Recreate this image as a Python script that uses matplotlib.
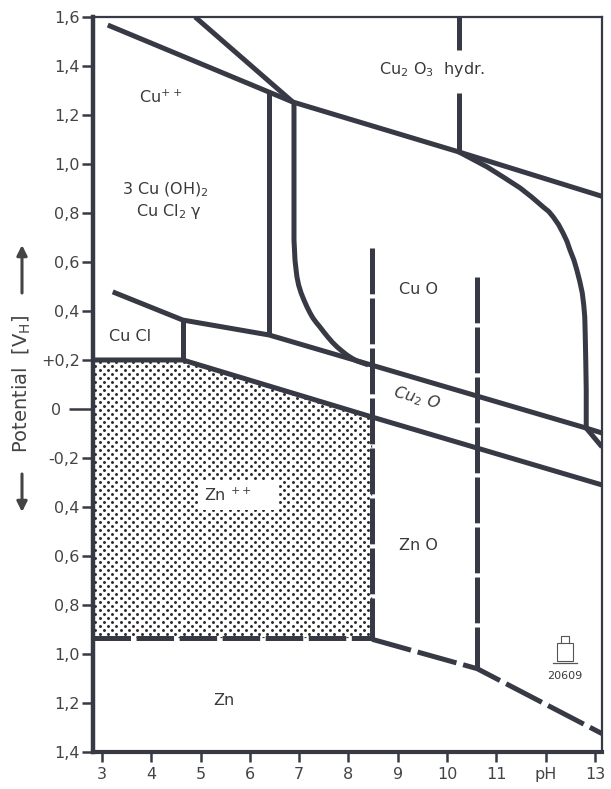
import numpy as np
import matplotlib.pyplot as plt
from matplotlib.patches import Polygon, Rectangle

plt.rcParams['font.family'] = ['DejaVu Sans']
plt.rcParams['lines.scale_dashes'] = False

INK = '#373a44'
TXT = '#3a3a3a'

# axis ticks
ph_ticks = [3, 4, 5, 6, 7, 8, 9, 10, 11, 12, 13]
ph_labels = ['3', '4', '5', '6', '7', '8', '9', '10', '11', 'pH', '13']
pot_ticks = [1.6, 1.4, 1.2, 1.0, 0.8, 0.6, 0.4, 0.2, 0.0,
             -0.2, -0.4, -0.6, -0.8, -1.0, -1.2, -1.4]
pot_labels = ['1,6', '1,4', '1,2', '1,0', '0,8', '0,6', '0,4', '+0,2', '0',
              '-0,2', '0,4', '0,6', '0,8', '1,0', '1,2', '1,4']

# copper boundaries (pH, potential in V_H)
cu_upper_ph = [3.12, 6.87, 10.24, 13.14]
cu_upper_v = [1.567, 1.253, 1.049, 0.868]

steep_ph = [4.89, 6.87]
steep_v = [1.60, 1.253]

hydr_ph = 10.24
hydr_top_v = [1.60, 1.465]
hydr_low_v = [1.29, 1.049]

basic_ph = 6.39
basic_v = [1.29, 0.302]

left_curve_ph = [6.895, 6.895, 6.905, 6.915, 6.935, 6.955, 6.99, 7.04, 7.10,
                 7.16, 7.22, 7.28, 7.35, 7.42, 7.50, 7.58, 7.67, 7.77, 7.87,
                 7.97, 8.07, 8.17, 8.40]
left_curve_v = [1.249, 0.690, 0.650, 0.608, 0.572, 0.539, 0.505, 0.473, 0.443,
                0.416, 0.392, 0.371, 0.352, 0.335, 0.314, 0.294, 0.273, 0.253,
                0.236, 0.220, 0.207, 0.196, 0.180]

right_curve_ph = [10.24, 10.52, 10.81, 11.15, 11.48, 11.72, 11.95, 12.06, 12.15,
                  12.26, 12.35, 12.43, 12.49, 12.57, 12.63, 12.69, 12.74, 12.77,
                  12.79, 12.80, 12.81, 12.82, 12.82]
right_curve_v = [1.049, 1.019, 0.988, 0.945, 0.902, 0.864, 0.824, 0.806, 0.784,
                 0.752, 0.718, 0.684, 0.649, 0.608, 0.567, 0.520, 0.473, 0.424,
                 0.376, 0.300, 0.200, 0.078, -0.078]

cuo_ph = [3.22, 4.64, 6.39, 12.82, 13.14]
cuo_v = [0.478, 0.363, 0.302, -0.078, -0.098]

tail_ph = [12.82, 13.14]
tail_v = [-0.078, -0.155]

cucl_ph = 4.64
cucl_v = [0.363, 0.20]

cu_metal_ph = [2.82, 4.64, 8.48, 13.14]
cu_metal_v = [0.20, 0.20, -0.033, -0.31]

# zinc boundaries
zno_left_ph = 8.48
zno_left_v = [0.657, -0.94]
zno_right_ph = 10.61
zno_right_v = [0.539, -1.06]

zn_flat_ph = [2.82, 8.48]
zn_flat_v = [-0.935, -0.935]
zn_slope_ph = [8.48, 10.61, 13.14]
zn_slope_v = [-0.94, -1.06, -1.325]

zn_ion_ph = [2.82, 4.64, 8.48, 8.48, 2.82]
zn_ion_v = [0.20, 0.20, -0.033, -0.935, -0.935]

# region labels
label_text = ['Cu$^{++}$', 'Cu$_2$ O$_3$  hydr.', '3 Cu (OH)$_2$', 'Cu Cl$_2$ γ',
              'Cu Cl', 'Cu O', 'Zn O', 'Zn']
label_ph = [4.20, 9.69, 4.28, 4.35, 3.57, 9.41, 9.41, 5.47]
label_v = [1.27, 1.384, 0.894, 0.806, 0.294, 0.486, -0.559, -1.188]


def main():
    fig = plt.figure(figsize=(6.11, 7.89), dpi=100)
    ax = fig.add_axes([0.1522, 0.0469, 0.8331, 0.9316])
    ax.set_xlim(2.82, 13.14)
    ax.set_ylim(-1.4, 1.6)

    # dotted Zn++ field
    field = Polygon(np.column_stack([zn_ion_ph, zn_ion_v]), closed=True,
                    facecolor='white', edgecolor='none', zorder=1)
    ax.add_patch(field)
    gx, gy = np.meshgrid(np.arange(2.70, 8.7, 0.170), np.arange(-1.0, 0.25, 0.0326))
    dots_x = np.concatenate([gx.ravel(), (gx + 0.085).ravel()])
    dots_y = np.concatenate([gy.ravel(), (gy + 0.0163).ravel()])
    dots = ax.scatter(dots_x, dots_y, s=4.5, color='#2a2a2a', linewidths=0, zorder=2)
    dots.set_clip_path(field)

    solid = dict(color=INK, lw=3.6, solid_capstyle='butt', solid_joinstyle='round', zorder=4)
    ax.plot(cu_upper_ph, cu_upper_v, **solid)
    ax.plot(steep_ph, steep_v, **solid)
    ax.plot([hydr_ph, hydr_ph], hydr_top_v, **solid)
    ax.plot([hydr_ph, hydr_ph], hydr_low_v, **solid)
    ax.plot([basic_ph, basic_ph], basic_v, **solid)
    ax.plot(left_curve_ph, left_curve_v, **solid)
    ax.plot(right_curve_ph, right_curve_v, **solid)
    ax.plot(cuo_ph, cuo_v, **solid)
    ax.plot(tail_ph, tail_v, **solid)
    ax.plot([cucl_ph, cucl_ph], cucl_v, **solid)
    ax.plot(cu_metal_ph, cu_metal_v, **solid)

    vdash = dict(color=INK, lw=3.6, dashes=(33, 3), dash_capstyle='butt', zorder=3)
    ax.plot([zno_left_ph, zno_left_ph], zno_left_v, **vdash)
    ax.plot([zno_right_ph, zno_right_ph], zno_right_v, **vdash)
    ax.plot(zn_flat_ph, zn_flat_v, color=INK, lw=3.6, dashes=(27, 4),
            dash_capstyle='butt', zorder=3)
    ax.plot(zn_slope_ph, zn_slope_v, color=INK, lw=3.6, dashes=(29, 5),
            dash_capstyle='butt', zorder=3)

    for t, x, y in zip(label_text, label_ph, label_v):
        ax.text(x, y, t, ha='center', va='center', fontsize=11.5, color=TXT, zorder=6)
    ax.text(9.39, 0.045, 'Cu$_2$ O', ha='center', va='center', fontsize=11.5,
            color=TXT, rotation=-15, style='italic', zorder=6)
    ax.text(5.07, -0.351, 'Zn $^{++}$    ', ha='left', va='center', fontsize=11.5,
            color=TXT, zorder=6,
            bbox=dict(facecolor='white', edgecolor='none', boxstyle='square,pad=0.4'))

    # little stamp mark above the drawing number
    ax.add_patch(Rectangle((12.22, -1.03), 0.34, 0.075, facecolor='none',
                           edgecolor='#555555', lw=0.8))
    ax.plot([12.14, 12.64], [-1.035, -1.035], color='#555555', lw=0.9)
    ax.plot([12.30, 12.30, 12.48, 12.48], [-0.955, -0.925, -0.925, -0.955],
            color='#555555', lw=0.8)
    ax.text(12.39, -1.09, '20609', ha='center', va='center', fontsize=8, color=TXT)

    # frame and ticks
    for side, w in [('left', 3.2), ('bottom', 3.0), ('top', 1.6), ('right', 1.6)]:
        ax.spines[side].set_linewidth(w)
        ax.spines[side].set_color(INK)
    ax.set_xticks(ph_ticks)
    ax.set_xticklabels(ph_labels)
    ax.set_yticks(pot_ticks)
    ax.set_yticklabels(pot_labels)
    ax.tick_params(axis='both', direction='out', color=INK, width=1.8,
                   labelsize=11.5, labelcolor='#444444')
    ax.tick_params(axis='x', length=7, pad=4)
    ax.tick_params(axis='y', length=8, pad=1.5)
    for tick, v in zip(ax.yaxis.get_major_ticks(), pot_ticks):
        if v == 0:
            tick._apply_params(size=17, pad=6)

    # axis title with direction arrows
    lx = 22 / 611
    fig.text(lx, 1 - 384 / 789, 'Potential  [V$_\\mathrm{H}$]',
             rotation=90, ha='center', va='center', fontsize=14, color='#444444')
    arrow = dict(arrowstyle='-|>', color='#444444', lw=2.2, mutation_scale=15,
                 shrinkA=0, shrinkB=0)
    ax.annotate('', xy=(lx, 1 - 512 / 789), xytext=(lx, 1 - 474 / 789),
                xycoords='figure fraction', textcoords='figure fraction', arrowprops=arrow)
    ax.annotate('', xy=(lx, 1 - 245 / 789), xytext=(lx, 1 - 293 / 789),
                xycoords='figure fraction', textcoords='figure fraction', arrowprops=arrow)

    plt.savefig('out.png', dpi=100)


if __name__ == '__main__':
    main()
